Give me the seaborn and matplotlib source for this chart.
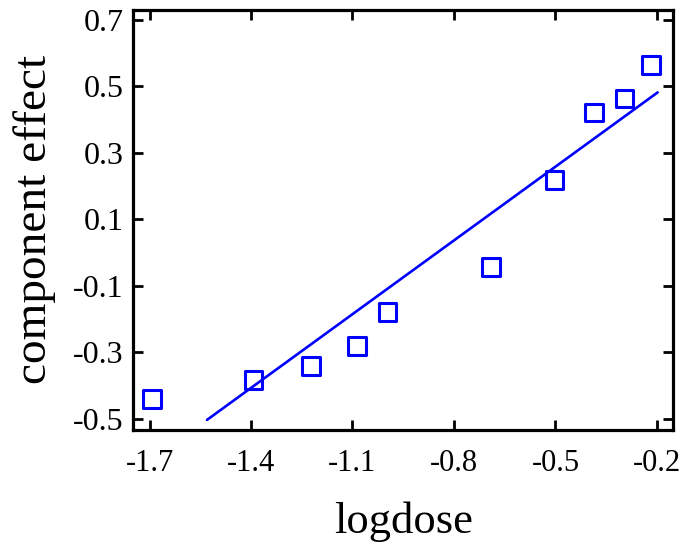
import matplotlib
matplotlib.use("Agg")
import matplotlib.pyplot as plt
import seaborn as sns
import pandas as pd

# data
logdose = [-1.692, -1.393, -1.223, -1.086, -0.997, -0.690, -0.503, -0.386, -0.296, -0.217]
effect = [-0.441, -0.383, -0.341, -0.281, -0.179, -0.044, 0.218, 0.420, 0.463, 0.563]
fit_x = [-1.53, -0.198]
fit_y = [-0.503, 0.481]
xticks = [-1.7, -1.4, -1.1, -0.8, -0.5, -0.2]
yticks = [-0.5, -0.3, -0.1, 0.1, 0.3, 0.5, 0.7]

sns.set_style("ticks")
plt.rcParams['font.family'] = ['Liberation Serif', 'DejaVu Serif']
plt.rcParams['axes.unicode_minus'] = False
plt.rcParams['text.color'] = 'black'
plt.rcParams['axes.labelcolor'] = 'black'

df = pd.DataFrame({"logdose": logdose, "effect": effect})
fit = pd.DataFrame({"x": fit_x, "y": fit_y})

fig, ax = plt.subplots(figsize=(6.8, 5.49), dpi=100)
fig.subplots_adjust(left=0.196, right=0.990, top=0.982, bottom=0.217)

sns.lineplot(data=fit, x="x", y="y", ax=ax, color="#0000FF", linewidth=1.9)
sns.scatterplot(data=df, x="logdose", y="effect", ax=ax, marker="s", s=160,
                facecolor="none", edgecolor="#0000FF", linewidth=2.2, zorder=3)

ax.set_xlim(-1.748, -0.152)
ax.set_ylim(-0.533, 0.729)
ax.set_xticks(xticks)
ax.set_yticks(yticks)
ax.set_xticklabels([f"{v:g}" for v in xticks])
ax.set_yticklabels([f"{v:g}" for v in yticks])

for s in ax.spines.values():
    s.set_visible(True)
    s.set_linewidth(2.3)
    s.set_color("black")
ax.tick_params(direction="in", length=7, width=2, top=True, right=True,
               colors="black")
ax.tick_params(axis="x", pad=14, labelsize=22)
ax.tick_params(axis="y", pad=7, labelsize=23)
ax.set_xlabel("logdose", fontsize=32, labelpad=17, color="black")
ax.set_ylabel("component effect", fontsize=34, labelpad=12, color="black")

fig.savefig("out.png", dpi=100)
